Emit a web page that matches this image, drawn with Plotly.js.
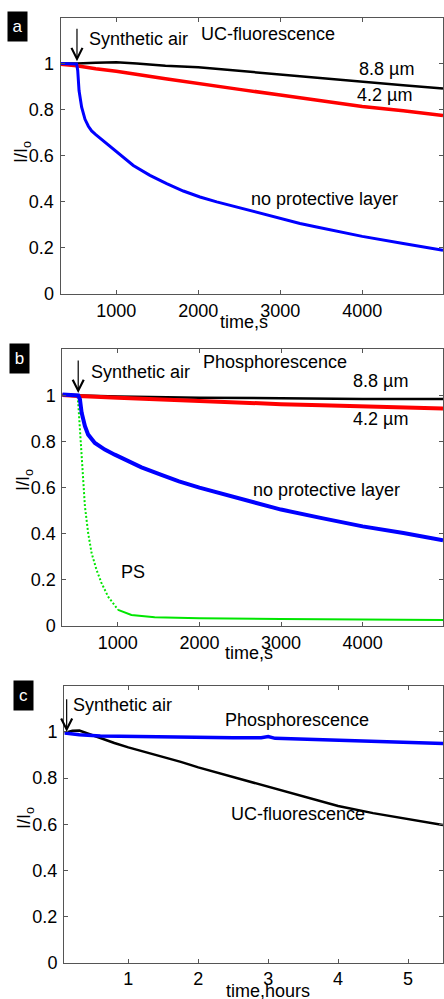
<!DOCTYPE html>
<html><head><meta charset="utf-8">
<script src="https://cdn.plot.ly/plotly-3.0.1.min.js"></script>
<style>html,body{margin:0;padding:0;background:#fff;}#plot{width:444px;height:999px;}</style>
</head><body><div id="plot"></div>
<script>
// ---------- Panel a: UC-fluorescence (time, s) ----------
const aBlackTime = [320, 517, 750, 1000, 1250, 1600, 2000, 2500, 3000, 3500, 4000, 4500, 4985];
const aBlackVal  = [1.0, 1.0, 1.004, 1.006, 1.0, 0.991, 0.984, 0.968, 0.952, 0.937, 0.922, 0.906, 0.892];
const aRedTime   = [320, 517, 750, 1000, 1600, 2000, 2500, 3000, 3600, 4000, 4500, 4985];
const aRedVal    = [0.997, 0.991, 0.978, 0.967, 0.934, 0.912, 0.888, 0.864, 0.832, 0.814, 0.795, 0.775];
const aBlueTime  = [320, 517, 530, 546, 578, 619, 660, 700, 750, 802, 1005, 1208, 1411, 1615, 1818, 2021, 2225, 2427, 2631, 2835, 3037, 3241, 3444, 3647, 4000, 4500, 4985];
const aBlueVal   = [1.0, 0.998, 0.97, 0.883, 0.811, 0.758, 0.728, 0.708, 0.692, 0.677, 0.616, 0.558, 0.515, 0.479, 0.447, 0.421, 0.4, 0.381, 0.361, 0.342, 0.323, 0.306, 0.291, 0.277, 0.25, 0.219, 0.19];

// ---------- Panel b: Phosphorescence (time, s) ----------
const bBlackTime = [320, 515, 1000, 2000, 2500, 3000, 3500, 4000, 4500, 4985];
const bBlackVal  = [1.002, 1.0, 0.995, 0.99, 0.988, 0.987, 0.986, 0.985, 0.985, 0.984];
const bRedTime   = [320, 515, 1000, 1500, 2000, 2500, 3000, 3500, 4000, 4500, 4985];
const bRedVal    = [1.002, 0.997, 0.99, 0.982, 0.975, 0.968, 0.962, 0.957, 0.952, 0.948, 0.943];
const bBlueTime  = [320, 515, 536, 557, 597, 637, 719, 841, 963, 1126, 1290, 1534, 1750, 2000, 2500, 3000, 3500, 4000, 4500, 4985];
const bBlueVal   = [1.004, 1.0, 0.983, 0.925, 0.867, 0.83, 0.794, 0.765, 0.743, 0.714, 0.688, 0.655, 0.627, 0.6, 0.553, 0.505, 0.468, 0.432, 0.403, 0.372];
const bGreenTime = [320, 505, 515, 536, 557, 576, 597, 637, 679, 740, 801, 882, 1004, 1167, 1452, 2000, 3000, 4000, 4985];
const bGreenVal  = [1.0, 1.0, 0.968, 0.867, 0.736, 0.635, 0.519, 0.403, 0.316, 0.243, 0.186, 0.127, 0.07, 0.048, 0.038, 0.034, 0.03, 0.028, 0.026];

// ---------- Panel c: long-term (time, hours) ----------
const cBlackTime = [0.09, 0.2, 0.3, 0.4, 0.6, 0.8, 1.0, 1.25, 1.5, 1.75, 2.0, 2.5, 3.0, 3.5, 4.0, 4.5, 5.0, 5.5];
const cBlackVal  = [0.995, 1.005, 1.006, 0.995, 0.972, 0.952, 0.933, 0.913, 0.893, 0.87, 0.846, 0.804, 0.762, 0.72, 0.679, 0.648, 0.622, 0.596];
const cBlueTime  = [0.09, 0.3, 0.6, 1.0, 1.5, 2.0, 2.5, 2.9, 3.0, 3.1, 3.5, 4.0, 4.5, 5.0, 5.5];
const cBlueVal   = [0.995, 0.988, 0.982, 0.98, 0.979, 0.976, 0.975, 0.975, 0.98, 0.972, 0.968, 0.962, 0.958, 0.955, 0.95];

// tick labels
const sTickVals = [1000, 2000, 3000, 4000];
const sTickText = ['1000', '2000', '3000', '4000'];
const hTickVals = [1, 2, 3, 4, 5];
const hTickText = ['1', '2', '3', '4', '5'];
const yTickVals = [0, 0.2, 0.4, 0.6, 0.8, 1];
const yTickText = ['0', '0.2', '0.4', '0.6', '0.8', '1'];

const W = 444, H = 999;
const px = x => x / W;
const py = y => 1 - y / H;
const FONT = 'Liberation Sans, Arial, sans-serif';
const FS = 18;
const AX = '#555';

function ln(x, y, xa, ya, color, width, dash) {
  return {x: x, y: y, xaxis: xa, yaxis: ya, type: 'scatter', mode: 'lines',
    line: {color: color, width: width, dash: dash || 'solid'}, hoverinfo: 'skip', showlegend: false};
}

// PS curve: steep part drawn dotted (sparse points), flat tail solid (dense points)
const gSplit = bGreenTime.findIndex(t => t >= 1004);

const data = [
  ln(aBlackTime, aBlackVal, 'x', 'y', '#000000', 2.5),
  ln(aRedTime, aRedVal, 'x', 'y', '#ff0000', 3.5),
  ln(aBlueTime, aBlueVal, 'x', 'y', '#0000ff', 3),
  ln(bGreenTime.slice(0, gSplit + 1), bGreenVal.slice(0, gSplit + 1), 'x2', 'y2', '#00e600', 2, '2px,2px'),
  ln(bGreenTime.slice(gSplit), bGreenVal.slice(gSplit), 'x2', 'y2', '#00e600', 2),
  ln(bBlackTime, bBlackVal, 'x2', 'y2', '#000000', 2.5),
  ln(bRedTime, bRedVal, 'x2', 'y2', '#ff0000', 4),
  ln(bBlueTime, bBlueVal, 'x2', 'y2', '#0000ff', 4),
  ln(cBlackTime, cBlackVal, 'x3', 'y3', '#000000', 2.5),
  ln(cBlueTime, cBlueVal, 'x3', 'y3', '#0000ff', 3.5)
];

function xa(dom, range, tv, tt, anchor) {
  return {domain: dom, range: range, anchor: anchor, tickvals: tv, ticktext: tt,
    ticks: 'inside', ticklen: 4, tickwidth: 1, tickcolor: AX, showline: true, linecolor: AX, linewidth: 1,
    mirror: 'ticks', showgrid: false, zeroline: false, ticklabelstandoff: 0,
    tickfont: {family: FONT, size: FS, color: '#000'}, fixedrange: true};
}
function ya(dom, anchor) {
  return {domain: dom, range: [0, 1.2], anchor: anchor, tickvals: yTickVals, ticktext: yTickText,
    ticks: 'inside', ticklen: 4, tickwidth: 1, tickcolor: AX, showline: true, linecolor: AX, linewidth: 1,
    mirror: 'ticks', showgrid: false, zeroline: false, ticklabelstandoff: 2,
    tickfont: {family: FONT, size: FS, color: '#000'}, fixedrange: true};
}

function txt(text, x, y, xanchor) {
  return {text: text, xref: 'paper', yref: 'paper', x: px(x), y: py(y), xanchor: xanchor || 'left',
    yanchor: 'middle', showarrow: false, font: {family: FONT, size: FS, color: '#000'}};
}
function panel(label, cx, cy) {
  return {text: label, xref: 'paper', yref: 'paper', x: px(cx), y: py(cy), xanchor: 'center', yanchor: 'middle',
    showarrow: false, bgcolor: '#000', width: 17, height: 27, font: {family: FONT, size: 17, color: '#fff'}};
}
function ylab(x, y) {
  return {text: 'I/I<sub>o</sub>', xref: 'paper', yref: 'paper', x: px(x), y: py(y), xanchor: 'center',
    yanchor: 'middle', textangle: -90, showarrow: false, font: {family: FONT, size: FS, color: '#000'}};
}
function arrow(xref, yref, x, y) {
  return {text: '', xref: xref, yref: yref, x: x, y: y, ax: 0, ay: -34, showarrow: true,
    arrowhead: 5, arrowsize: 1.8, arrowwidth: 1.2, arrowcolor: '#000', standoff: 0};
}

const annotations = [
  panel('a', 17.5, 26.5), panel('b', 19.5, 358.5), panel('c', 23, 695.5),
  // panel a
  txt('Synthetic air', 87, 39), txt('UC-fluorescence', 199, 34),
  txt('8.8 \u00b5m', 357, 69), txt('4.2 \u00b5m', 355, 95), txt('no protective layer', 249, 199),
  txt('time,s', 244, 322, 'center'), ylab(22, 152),
  arrow('x', 'y', 521, 1.01),
  // panel b
  txt('Synthetic air', 89, 372), txt('Phosphorescence', 201, 362),
  txt('8.8 \u00b5m', 351, 381), txt('4.2 \u00b5m', 351, 419), txt('no protective layer', 251, 490),
  txt('PS', 119, 572),
  txt('time,s', 249, 653, 'center'), ylab(24, 480),
  arrow('x2', 'y2', 515, 1.01),
  // panel c
  txt('Synthetic air', 71, 705), txt('Phosphorescence', 223, 720), txt('UC-fluorescence', 229, 814),
  txt('time,hours', 268, 991, 'center'), ylab(25, 818),
  arrow('x3', 'y3', 0.118, 1.0)
];

const layout = {
  width: W, height: H, margin: {l: 0, r: 0, t: 0, b: 0},
  paper_bgcolor: '#fff', plot_bgcolor: '#fff', showlegend: false,
  font: {family: FONT, size: FS, color: '#000'},
  xaxis: xa([60.5 / W, 443 / W], [320, 4985], sTickVals, sTickText, 'y'),
  yaxis: ya([1 - 294 / H, 1 - 17.5 / H], 'x'),
  xaxis2: xa([62.3 / W, 443 / W], [320, 4985], sTickVals, sTickText, 'y2'),
  yaxis2: ya([1 - 626 / H, 1 - 349.3 / H], 'x2'),
  xaxis3: xa([64 / W, 443 / W], [0.08, 5.5], hTickVals, hTickText, 'y3'),
  yaxis3: ya([1 - 962.7 / H, 1 - 685.7 / H], 'x3'),
  annotations: annotations
};

Plotly.newPlot('plot', data, layout, {staticPlot: true, displayModeBar: false});
</script>
</body></html>
